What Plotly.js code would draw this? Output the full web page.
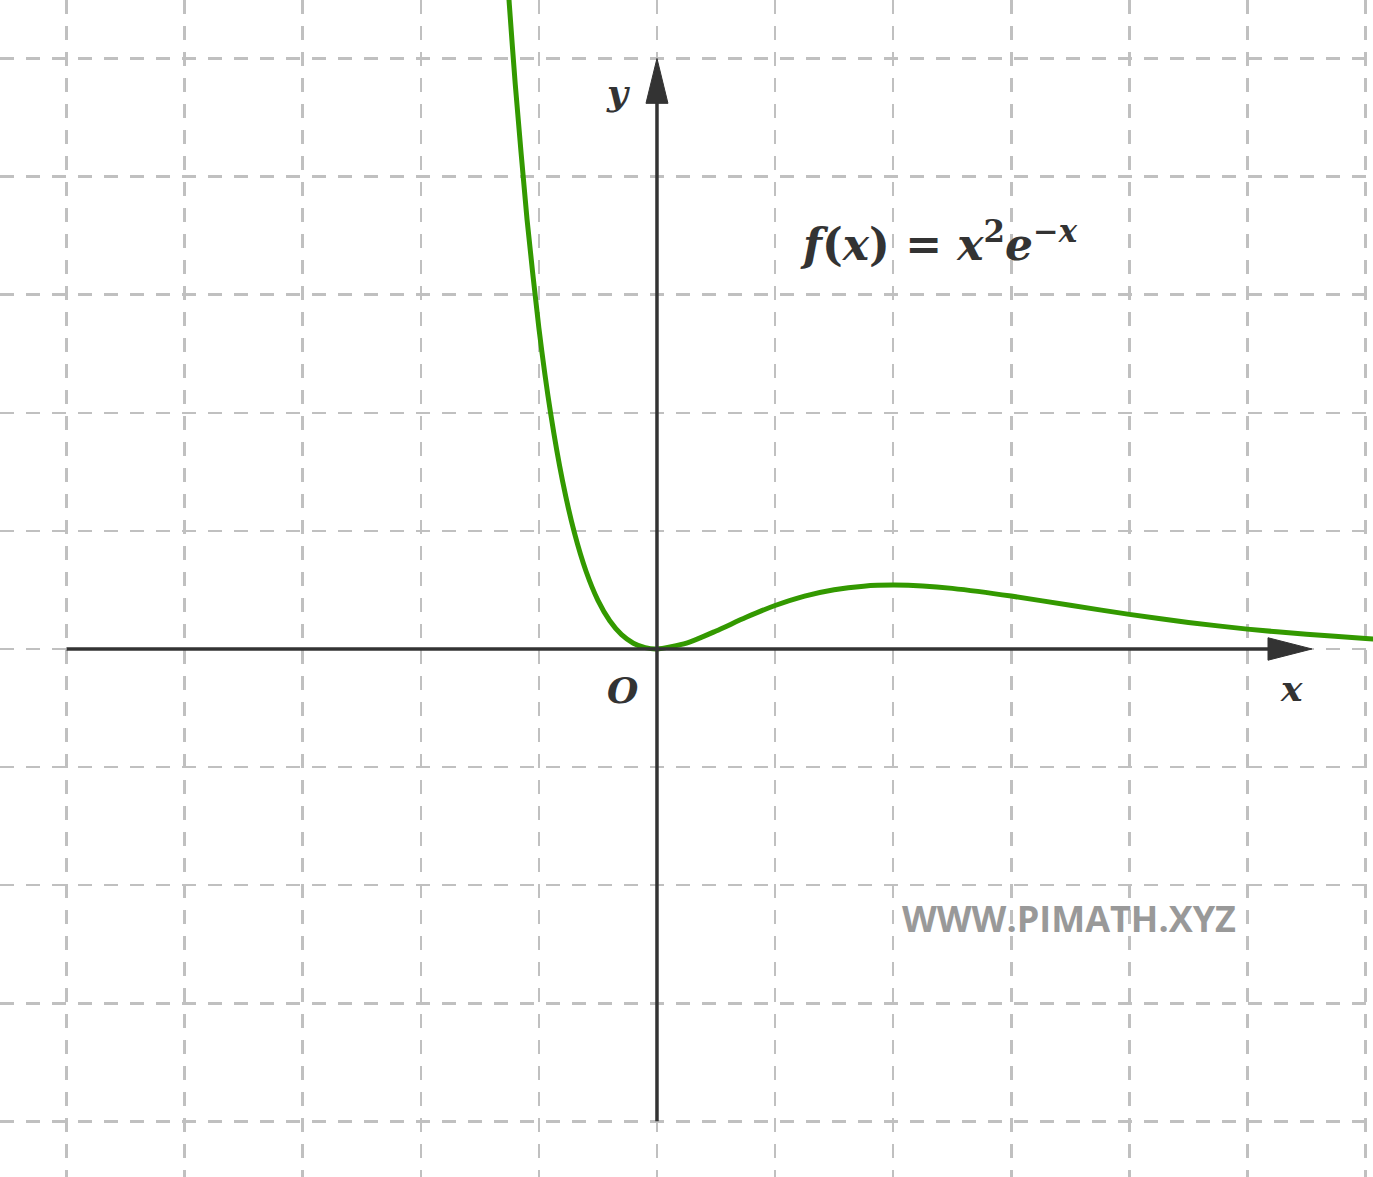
<!DOCTYPE html>
<html>
<head>
<meta charset="utf-8">
<script src="https://cdn.plot.ly/plotly-3.0.1.min.js"></script>
<style>html,body{margin:0;padding:0;background:#fff;}#chart{width:1373px;height:1177px;}</style>
</head>
<body>
<div id="chart"></div>
<script>
// Curve f(x) = x^2 e^{-x}
const xValues = [-1.27, -1.25, -1.2, -1.1, -1.0, -0.9, -0.8, -0.7, -0.6, -0.5, -0.4, -0.3, -0.2, -0.1, 0,
  0.25, 0.5, 0.75, 1.0, 1.25, 1.5, 1.75, 2.0, 2.25, 2.5, 3.0, 3.5, 4.0, 4.5, 5.0, 5.5, 6.0, 6.1];
const yValues = [5.742, 5.454, 4.781, 3.635, 2.718, 1.992, 1.424, 0.987, 0.656, 0.412, 0.239, 0.121, 0.049, 0.011, 0,
  0.049, 0.152, 0.266, 0.368, 0.448, 0.502, 0.532, 0.541, 0.534, 0.513, 0.448, 0.370, 0.293, 0.225, 0.168, 0.124, 0.089, 0.083];
const formulaText = '<b><i>f</i>(<i>x</i>) = <i>x</i><sup>2</sup><i>e</i><sup>−<i>x</i></sup></b>';
const watermark = 'WWW.PIMATH.XYZ';
const axisLabels = {x: 'x', y: 'y', origin: 'O'};

const axisColor = '#333333';
const mathFont = 'DejaVu Serif, Liberation Serif, serif';

const trace = {
  x: xValues, y: yValues, type: 'scatter', mode: 'lines',
  line: {color: '#339900', width: 5, shape: 'spline', smoothing: 0.6},
  hoverinfo: 'skip', cliponaxis: true
};

const layout = {
  width: 1373, height: 1177,
  margin: {l: 0, r: 0, t: 0, b: 0, pad: 0},
  paper_bgcolor: '#ffffff', plot_bgcolor: '#ffffff',
  showlegend: false,
  xaxis: {range: [-5.563, 6.063], dtick: 1, tick0: 0, showticklabels: false, ticks: '',
    zeroline: false, showline: false, showgrid: true, gridcolor: '#c0c0c0', gridwidth: 2.5,
    griddash: '14px,12px', fixedrange: true},
  yaxis: {range: [-4.471, 5.495], dtick: 1, tick0: 0, showticklabels: false, ticks: '',
    zeroline: false, showline: false, showgrid: true, gridcolor: '#c0c0c0', gridwidth: 2.5,
    griddash: '14px,12px', fixedrange: true},
  shapes: [
    {type: 'line', x0: -5, x1: 5.2, y0: 0, y1: 0, line: {color: axisColor, width: 3.5}, layer: 'above'},
    {type: 'line', x0: 0, x1: 0, y0: -4, y1: 4.65, line: {color: axisColor, width: 3.5}, layer: 'above'},
    {type: 'path', path: 'M 5.174 -0.095 L 5.546 0 L 5.174 0.095 Z', fillcolor: axisColor, line: {color: axisColor, width: 1}, layer: 'above'},
    {type: 'path', path: 'M -0.093 4.62 L 0 5.0 L 0.093 4.62 Z', fillcolor: axisColor, line: {color: axisColor, width: 1}, layer: 'above'}
  ],
  annotations: [
    {x: -0.33, y: 4.72, text: '<b><i>' + axisLabels.y + '</i></b>', showarrow: false,
      font: {family: mathFont, size: 36, color: axisColor}},
    {x: 5.37, y: -0.33, text: '<b><i>' + axisLabels.x + '</i></b>', showarrow: false,
      font: {family: mathFont, size: 36, color: axisColor}},
    {x: -0.29, y: -0.35, text: '<b><i>' + axisLabels.origin + '</i></b>', showarrow: false,
      font: {family: mathFont, size: 36, color: axisColor}},
    {x: 2.39, y: 3.45, text: formulaText, showarrow: false,
      font: {family: mathFont, size: 44, color: axisColor}},
    {x: 3.49, y: -2.28, text: '<b>' + watermark + '</b>', showarrow: false,
      font: {family: 'Open Sans, Noto Sans, sans-serif', size: 36, color: '#999999'}}
  ]
};

Plotly.newPlot('chart', [trace], layout, {staticPlot: true, displayModeBar: false});
</script>
</body>
</html>
